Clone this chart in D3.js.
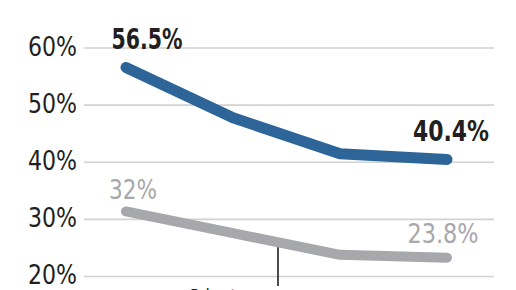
<!DOCTYPE html>
<html>
<head>
<meta charset="utf-8">
<script src="https://cdn.jsdelivr.net/npm/d3@7"></script>
<style>
  html, body { margin: 0; padding: 0; background: #fff; }
  svg { display: block; }
  text { font-family: "Liberation Sans Narrow", "DejaVu Sans Condensed", "Roboto", sans-serif; font-stretch: condensed; }
</style>
</head>
<body>
<svg id="chart"></svg>
<script>
// chart data
const periods = ['p1', 'p2', 'p3', 'p4'];
const topSeries = [56.5, 47.7, 41.4, 40.4];
const bottomSeries = [31.3, 27.5, 23.7, 23.2];
const topLabels = ['56.5%', '', '', '40.4%'];
const bottomLabels = ['32%', '', '', '23.8%'];
const yTicks = [20, 30, 40, 50, 60];

const width = 516, height = 290;

const svg = d3.select('#chart')
  .attr('width', width)
  .attr('height', height);

// scales
let x = d3.scalePoint()
  .domain(periods)
  .range([126, 447]);

let y = d3.scaleLinear()
  .domain([20, 60])
  .range([276, 47.5]);

// gridlines + left labels
let yAxis = svg.append('g')
  .call(d3.axisLeft(y).tickValues(yTicks).tickSize(0).tickPadding(0).tickFormat(d => d + '%'));

yAxis.select('.domain').remove();

yAxis.selectAll('.tick line')
  .attr('x1', 84)
  .attr('x2', 494)
  .attr('stroke', '#d2d2d2')
  .attr('stroke-width', 1.6);

yAxis.selectAll('.tick text')
  .attr('x', 77)
  .attr('dy', 7.5)
  .attr('fill', '#231f20')
  .attr('font-size', 26)
  .attr('text-anchor', 'end')
  .attr('textLength', 49)
  .attr('lengthAdjust', 'spacingAndGlyphs');

// divider mark near bottom
svg.append('line')
  .attr('x1', 278).attr('x2', 278)
  .attr('y1', 245).attr('y2', 286)
  .attr('stroke', '#231f20')
  .attr('stroke-width', 1.6);

// axis caption, mostly below the bottom edge as in the source
svg.append('text')
  .attr('x', 190)
  .attr('y', 307)
  .attr('font-size', 24)
  .attr('fill', '#231f20')
  .attr('textLength', 56)
  .attr('lengthAdjust', 'spacingAndGlyphs')
  .text('Prior to');

const line = d3.line()
  .x((d, i) => x(periods[i]))
  .y(d => y(d));

svg.append('path')
  .datum(bottomSeries)
  .attr('d', line)
  .attr('fill', 'none')
  .attr('stroke', '#a7a8ab')
  .attr('stroke-width', 10)
  .attr('stroke-linecap', 'round')
  .attr('stroke-linejoin', 'round');

svg.append('path')
  .datum(topSeries)
  .attr('d', line)
  .attr('fill', 'none')
  .attr('stroke', '#2e6599')
  .attr('stroke-width', 11)
  .attr('stroke-linecap', 'round')
  .attr('stroke-linejoin', 'round');

// value labels: [dx, dy, width]
const labelPlace = {
  top: [[21, -18, 71], null, null, [4, -18, 76]],
  bottom: [[7, -12, 48], null, null, [-4, -15, 71]]
};

topLabels.forEach((lbl, i) => {
  if (!lbl) return;
  let o = labelPlace.top[i];
  svg.append('text')
    .attr('x', x(periods[i]) + o[0])
    .attr('y', y(topSeries[i]) + o[1])
    .attr('text-anchor', 'middle')
    .attr('font-size', 28)
    .attr('font-weight', 'bold')
    .attr('fill', '#231f20')
    .attr('textLength', o[2])
    .attr('lengthAdjust', 'spacingAndGlyphs')
    .text(lbl);
});

bottomLabels.forEach((lbl, i) => {
  if (!lbl) return;
  let o = labelPlace.bottom[i];
  svg.append('text')
    .attr('x', x(periods[i]) + o[0])
    .attr('y', y(bottomSeries[i]) + o[1])
    .attr('text-anchor', 'middle')
    .attr('font-size', 27)
    .attr('fill', '#a7a8ab')
    .attr('textLength', o[2])
    .attr('lengthAdjust', 'spacingAndGlyphs')
    .text(lbl);
});
</script>
</body>
</html>
